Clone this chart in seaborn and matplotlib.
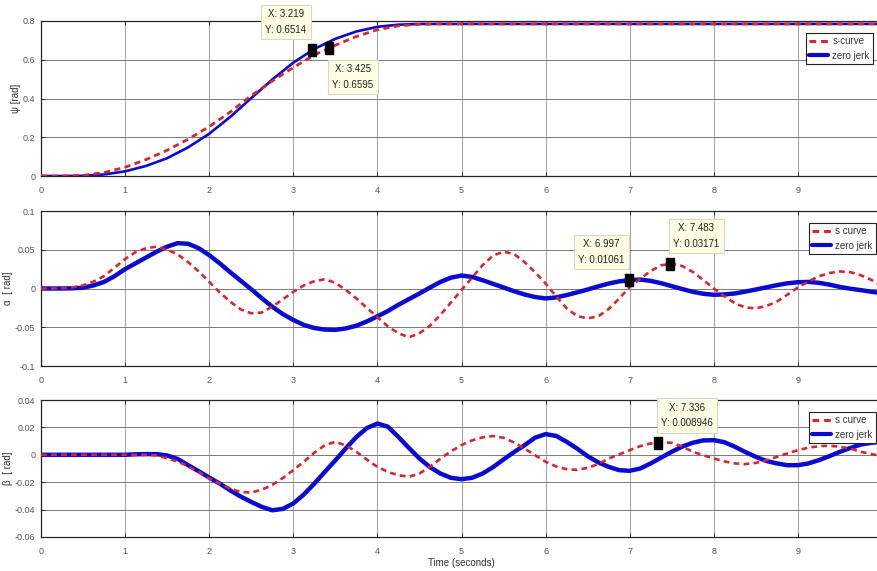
import numpy as np
import pandas as pd
import matplotlib
matplotlib.use("Agg")
import matplotlib.pyplot as plt
import seaborn as sns
from matplotlib.lines import Line2D

# ---------------- data ----------------
t_psi = np.arange(41) * 0.25          # sample times, psi panel
t_osc = np.arange(81) * 0.125         # sample times, alpha / beta panels

psi_scurve = [0, 0, 0.003, 0.018, 0.045, 0.085, 0.133, 0.19, 0.255, 0.33,
              0.415, 0.49, 0.56, 0.625, 0.675, 0.72, 0.755, 0.775, 0.783,
              0.785, 0.785, 0.785, 0.785, 0.785, 0.785, 0.785, 0.785, 0.785,
              0.785, 0.785, 0.785, 0.785, 0.785, 0.785, 0.785, 0.785, 0.785,
              0.785, 0.785, 0.785, 0.785]
psi_zerojerk = [0, 0, 0.001, 0.008, 0.024, 0.052, 0.092, 0.148, 0.218, 0.305,
                0.402, 0.498, 0.585, 0.656, 0.708, 0.746, 0.770, 0.781, 0.785,
                0.785, 0.785, 0.785, 0.785, 0.785, 0.785, 0.785, 0.785, 0.785,
                0.785, 0.785, 0.785, 0.785, 0.785, 0.785, 0.785, 0.785, 0.785,
                0.785, 0.785, 0.785, 0.785]

alpha_scurve = [0, 0, 0.0003, 0.0015, 0.004, 0.009, 0.016, 0.027,
                0.038, 0.047, 0.052, 0.054, 0.050, 0.044, 0.034, 0.022,
                0.0085, -0.005, -0.017, -0.027, -0.032, -0.031, -0.0235, -0.014,
                -0.0043, 0.004, 0.0094, 0.012, 0.0073, -0.002, -0.0128, -0.025,
                -0.037, -0.049, -0.0577, -0.063, -0.0577, -0.048, -0.034, -0.018,
                -0.002, 0.014, 0.030, 0.0425, 0.0475, 0.0445, 0.034, 0.021,
                0.0064, -0.010, -0.0256, -0.0355, -0.0385, -0.036, -0.0265, -0.013,
                0.002, 0.0125, 0.0226, 0.030, 0.032, 0.029, 0.0214, 0.011,
                0.0, -0.010, -0.019, -0.0245, -0.0256, -0.0225, -0.017, -0.008,
                0.0013, 0.009, 0.0158, 0.020, 0.022, 0.021, 0.017, 0.011,
                0.003]
alpha_zerojerk = [0, 0, 0, 0.0003, 0.001, 0.004, 0.0085, 0.016,
                  0.025, 0.0325, 0.040, 0.0475, 0.054, 0.0585, 0.0577, 0.052,
                  0.043, 0.0325, 0.021, 0.010, -0.001, -0.0125, -0.0235, -0.033,
                  -0.0406, -0.047, -0.051, -0.053, -0.0534, -0.0515, -0.048, -0.0425,
                  -0.036, -0.029, -0.021, -0.0137, -0.0064, 0.0012, 0.0085, 0.014,
                  0.0167, 0.015, 0.0107, 0.006, 0.0013, -0.0035, -0.0077, -0.011,
                  -0.0128, -0.0115, -0.0085, -0.005, -0.0013, 0.0027, 0.0064, 0.0092,
                  0.0107, 0.0115, 0.0098, 0.0068, 0.003, -0.0007, -0.0043, -0.0068,
                  -0.0081, -0.0077, -0.0064, -0.004, -0.0013, 0.0015, 0.0043, 0.0067,
                  0.0081, 0.0085, 0.0073, 0.005, 0.002, -0.0003, -0.0021, -0.0042,
                  -0.006]

beta_scurve = [0, 0, 0, 0, 0, 0, 0, 0,
               0, 0, 0, -0.0005, -0.0025, -0.005, -0.0083, -0.0125,
               -0.0173, -0.021, -0.0246, -0.0272, -0.0275, -0.0255, -0.022, -0.017,
               -0.0112, -0.005, 0.0015, 0.007, 0.0095, 0.0068, 0.0022, -0.0035,
               -0.0088, -0.0125, -0.0149, -0.016, -0.0137, -0.0088, -0.0027, 0.0025,
               0.0071, 0.0105, 0.0127, 0.0137, 0.0124, 0.009, 0.0046, -0.0003,
               -0.0051, -0.0085, -0.0105, -0.011, -0.0095, -0.0068, -0.0027, 0.0003,
               0.0034, 0.0063, 0.0083, 0.0089, 0.0088, 0.006, 0.0022, -0.0003,
               -0.0027, -0.0048, -0.0063, -0.0068, -0.0059, -0.004, -0.0015, 0.001,
               0.0034, 0.0052, 0.0063, 0.0066, 0.0059, 0.0045, 0.0022, 0.0005,
               -0.001]
beta_zerojerk = [0, 0, 0, 0, 0, 0, 0, 0,
                 0, 0.0004, 0.0005, 0.0005, -0.0005, -0.003, -0.0076, -0.012,
                 -0.0166, -0.021, -0.026, -0.0305, -0.0344, -0.038, -0.0405, -0.0395,
                 -0.0355, -0.029, -0.021, -0.0125, -0.004, 0.0047, 0.013, 0.0195,
                 0.0228, 0.0205, 0.013, 0.005, -0.0027, -0.009, -0.0137, -0.0168,
                 -0.0178, -0.0168, -0.0137, -0.009, -0.0034, 0.002, 0.007, 0.0125,
                 0.0151, 0.0138, 0.0095, 0.0045, -0.001, -0.0055, -0.0088, -0.0112,
                 -0.0117, -0.010, -0.0063, -0.002, 0.0022, 0.006, 0.0088, 0.0105,
                 0.0107, 0.0092, 0.0059, 0.002, -0.0015, -0.0045, -0.0063, -0.0076,
                 -0.0076, -0.0063, -0.0039, -0.001, 0.0022, 0.005, 0.0075, 0.0088,
                 0.0095]

# data tips
tip_psi_x = [3.219, 3.425]
tip_psi_y = [0.6514, 0.6595]
tip_alpha_x = [6.997, 7.483]
tip_alpha_y = [0.01061, 0.03171]
tip_beta_x = [7.336]
tip_beta_y = [0.008946]

x_ticks = [0, 1, 2, 3, 4, 5, 6, 7, 8, 9]
psi_ticks = [0, 0.2, 0.4, 0.6, 0.8]
alpha_ticks = [-0.1, -0.05, 0, 0.05, 0.1]
beta_ticks = [-0.06, -0.04, -0.02, 0, 0.02, 0.04]

# ---------------- style ----------------
sns.set_theme(style="white")
FONT = ["Liberation Sans Narrow", "Liberation Sans", "DejaVu Sans"]
plt.rcParams["font.family"] = FONT

RED = "#d8262b"
BLUE = "#0a0ad0"
TICKC = "#555555"

W, H = 877, 571
fig = plt.figure(figsize=(W / 100, H / 100), dpi=100)


def ax_at(left_px, top_px, right_px, bottom_px):
    return fig.add_axes([left_px / W, 1 - bottom_px / H,
                         (right_px - left_px) / W, (bottom_px - top_px) / H])


ax1 = ax_at(41, 21, 882, 176)
ax2 = ax_at(41, 211, 882, 366)
ax3 = ax_at(41, 400, 882, 537)

df_psi = pd.DataFrame({"t": t_psi, "s": psi_scurve, "z": psi_zerojerk})
df_a = pd.DataFrame({"t": t_osc, "s": alpha_scurve, "z": alpha_zerojerk})
df_b = pd.DataFrame({"t": t_osc, "s": beta_scurve, "z": beta_zerojerk})

panels = [
    (ax1, df_psi, psi_ticks, (0, 0.8), "ψ [rad]", 2.0, 1.9, "s-curve"),
    (ax2, df_a, alpha_ticks, (-0.1, 0.1), "α  [ rad]", 1.9, 3.2, "s curve"),
    (ax3, df_b, beta_ticks, (-0.06, 0.04), "β  [ rad]", 1.9, 3.2, "s curve"),
]

for ax, df, yt, ylim, ylab, lw_r, lw_b, sname in panels:
    sns.lineplot(data=df, x="t", y="z", ax=ax, color=BLUE, lw=lw_b, zorder=3)
    sns.lineplot(data=df, x="t", y="s", ax=ax, color=RED, lw=lw_r, zorder=4,
                 dashes=False, linestyle=(0, (2.2, 1.6)))
    ax.set_xlim(0, 10)
    ax.set_ylim(*ylim)
    ax.set_xticks(x_ticks)
    ax.set_yticks(yt)
    ax.set_yticklabels([("%g" % v) for v in yt])
    ax.set_xticklabels([str(v) for v in x_ticks])
    ax.grid(axis="y", color="#7a7a7a", lw=0.7, zorder=0)
    ax.grid(axis="x", color="#a8a8a8", lw=0.8, zorder=0)
    ax.set_axisbelow(True)
    for sp in ax.spines.values():
        sp.set_color("#262626")
        sp.set_linewidth(0.9)
    ax.tick_params(direction="in", length=3, width=0.7, colors="#262626",
                   labelcolor=TICKC, labelsize=6.5, top=True, right=True,
                   left=True, bottom=True)
    ax.tick_params(axis="x", pad=7)
    ax.tick_params(axis="y", pad=4)
    ax.set_xlabel("")
    ax.set_ylabel(ylab, fontsize=7, color="#333333", labelpad=4)
    handles = [Line2D([], [], color=RED, lw=2.2, linestyle=(0, (2.2, 1.6))),
               Line2D([], [], color=BLUE, lw=3.0)]
    ax._legend_spec = (handles, [sname, "zero jerk"])

ax3.set_xlabel("Time (seconds)", fontsize=7, color="#333333", labelpad=2)
ax1.yaxis.set_label_coords(-0.024, 0.5)
ax2.yaxis.set_label_coords(-0.033, 0.5)
ax3.yaxis.set_label_coords(-0.033, 0.5)

legend_anchor = {ax1: (873, 33), ax2: (876, 223), ax3: (876, 412)}
for ax in (ax1, ax2, ax3):
    h, l = ax._legend_spec
    ax_px = legend_anchor[ax]
    leg = ax.legend(h, l, loc="upper right",
                    bbox_to_anchor=(ax_px[0] / W, 1 - ax_px[1] / H),
                    bbox_transform=fig.transFigure, fontsize=7,
                    frameon=True, fancybox=False, framealpha=1,
                    edgecolor="#222222", handlelength=2.0, handletextpad=0.4,
                    borderpad=0.35, labelspacing=0.45, borderaxespad=0)
    leg.get_frame().set_linewidth(0.8)
    for txt in leg.get_texts():
        txt.set_color("#333333")

# data tips
marker_verts = [(-0.33, -0.5), (0.33, -0.5), (0.33, 0.5), (-0.33, 0.5), (-0.33, -0.5)]
PT = 0.72


def datatip(ax, x, y, dx_px, dy_px):
    ax.plot([x], [y], marker=marker_verts, ms=8, color="black", ls="none",
            zorder=6, clip_on=False)
    ax.annotate("X: %s\nY: %s" % (x, y), xy=(x, y),
                xytext=(dx_px * PT, dy_px * PT), textcoords="offset points",
                ha="center", va="center", fontsize=7, color="#222222",
                linespacing=1.7, zorder=7, annotation_clip=False,
                bbox=dict(boxstyle="square,pad=0.45", fc="#fdfde3",
                          ec="#d8d8c8", lw=0.8))


tip_offsets_psi = [(-26, 28), (24, -29)]
for x, y, off in zip(tip_psi_x, tip_psi_y, tip_offsets_psi):
    datatip(ax1, x, y, *off)
tip_offsets_alpha = [(-28, 28), (26, 28)]
for x, y, off in zip(tip_alpha_x, tip_alpha_y, tip_offsets_alpha):
    datatip(ax2, x, y, *off)
tip_offsets_beta = [(29, 27)]
for x, y, off in zip(tip_beta_x, tip_beta_y, tip_offsets_beta):
    datatip(ax3, x, y, *off)

fig.savefig("out.png", dpi=100, facecolor="white")
